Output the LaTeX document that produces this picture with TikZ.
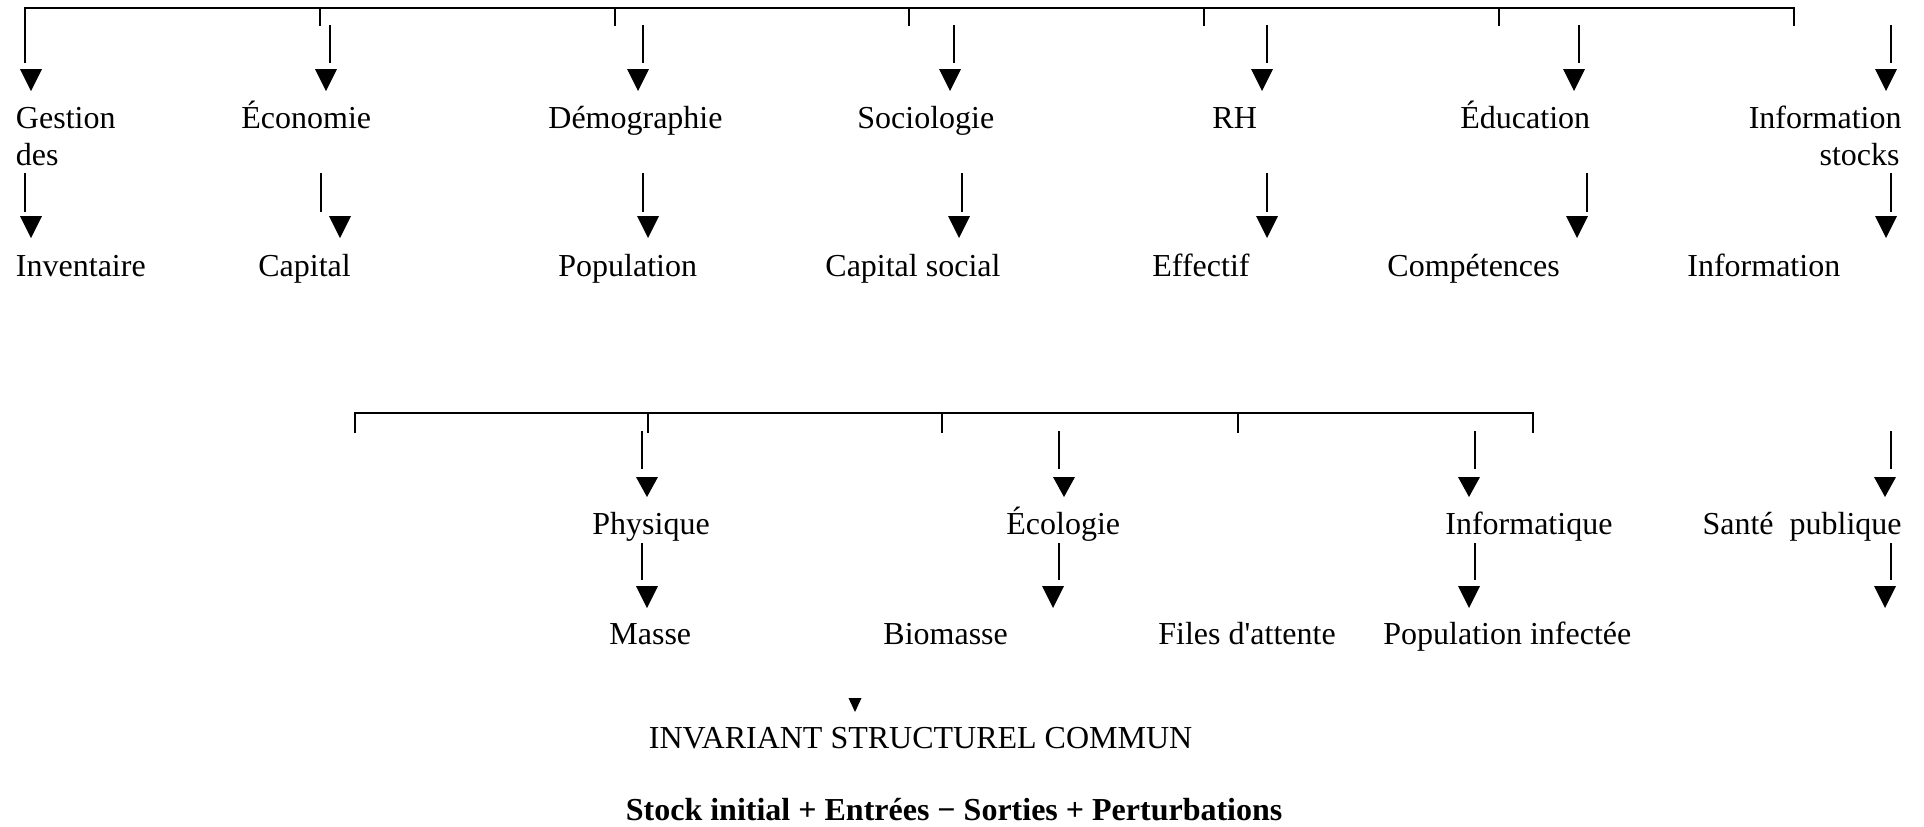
\documentclass[tikz,border=0pt]{standalone}
\usepackage{fontspec}
\setmainfont{Liberation Serif}
\begin{document}
\begin{tikzpicture}[x=0.5pt,y=-0.5pt,
  conn/.style={line width=0.85pt,black},
  headstyle/.style={fill=black},
  lbl/.style={inner sep=0pt,anchor=base west,font=\fontsize{16pt}{18.5pt}\selectfont},
  lblr/.style={lbl,anchor=base east},
  formula/.style={lbl,font=\fontsize{16pt}{18.5pt}\selectfont\bfseries}]
\newcommand{\flecha}[6]{%
  \draw[conn] (#1,#2) -- (#1,#3);
  \fill[headstyle] ({#4-11},#5) -- ({#4+11},#5) -- (#4,#6) -- cycle;}
\fill[white] (0,0) rectangle (1924,826);
\useasboundingbox (0,0) rectangle (1924,826);

% top bracket
\draw[conn] (25,63) -- (25,8) -- (1794,8) -- (1794,26);
\foreach \t in {320,615,909,1204,1499} \draw[conn] (\t,8) -- (\t,26);

% row 1 arrows
\fill[headstyle] (20,69) -- (42,69) -- (31,91) -- cycle;
\flecha{330}{25}{63}{326}{69}{91}
\flecha{643}{25}{63}{638}{69}{91}
\flecha{954}{25}{63}{950}{69}{91}
\flecha{1267}{25}{63}{1262}{69}{91}
\flecha{1579}{25}{63}{1574}{69}{91}
\flecha{1891}{25}{63}{1886}{69}{91}

% row 1 labels
\node[lbl] (gest) at (15.6,128) {Gestion};
\node[lbl] (gestdes) at (15.6,165) {des};
\node[lbl] (eco) at (241,128) {Économie};
\node[lbl] (demo) at (548,128) {Démographie};
\node[lbl] (socio) at (857,128) {Sociologie};
\node[lbl] (rh) at (1212,128) {RH};
\node[lbl] (educ) at (1460,128) {Éducation};
\node[lblr] (info) at (1902,128) {Information};
\node[lblr] (infost) at (1900,165) {stocks};

% row 2 arrows
\flecha{25}{173}{212}{31}{216}{238}
\flecha{321}{173}{212}{340}{216}{238}
\flecha{643}{173}{212}{648}{216}{238}
\flecha{962}{173}{212}{959}{216}{238}
\flecha{1267}{173}{212}{1267}{216}{238}
\flecha{1587}{173}{212}{1577}{216}{238}
\flecha{1891}{173}{212}{1886}{216}{238}

% row 2 labels
\node[lbl] (inv) at (15.6,276) {Inventaire};
\node[lbl] (cap) at (258,276) {Capital};
\node[lbl] (pop) at (558,276) {Population};
\node[lbl] (capsoc) at (825,276) {Capital social};
\node[lbl] (eff) at (1152,276) {Effectif};
\node[lbl] (comp) at (1387,276) {Compétences};
\node[lbl] (infoB) at (1687,276) {Information};

% lower bracket
\draw[conn] (355,433) -- (355,413) -- (1533,413) -- (1533,433);
\foreach \t in {648,942,1238} \draw[conn] (\t,413) -- (\t,433);

% row 3 arrows
\flecha{642}{431}{469}{647}{477}{497}
\flecha{1059}{431}{469}{1064}{477}{497}
\flecha{1475}{431}{469}{1469}{477}{497}
\flecha{1891}{431}{469}{1885}{477}{497}

% row 3 labels
\node[lbl] (phys) at (592,534) {Physique};
\node[lbl] (ecol) at (1006,534) {Écologie};
\node[lbl] (infor) at (1445,534) {Informatique};
\node[lblr] (sante) at (1902,534) {Santé\ \ publique};

% row 4 arrows
\flecha{642}{543}{580}{647}{586}{608}
\flecha{1059}{543}{580}{1053}{586}{608}
\flecha{1475}{543}{580}{1469}{586}{608}
\flecha{1891}{543}{580}{1885}{586}{608}

% row 4 labels
\node[lbl] (masse) at (609,644) {Masse};
\node[lbl] (bio) at (883,644) {Biomasse};
\node[lbl] (files) at (1158,644) {Files d\textquotesingle attente};
\node[lbl] (popinf) at (1383,644) {Population infectée};

% small head
\fill[headstyle] (848.5,698) -- (861.5,698) -- (855,712) -- cycle;

\node[lbl] (inv2) at (648.5,748) {INVARIANT STRUCTUREL COMMUN};
\node[formula] (form) at (625.5,820) {Stock initial + Entrées − Sorties + Perturbations};
\end{tikzpicture}
\end{document}
